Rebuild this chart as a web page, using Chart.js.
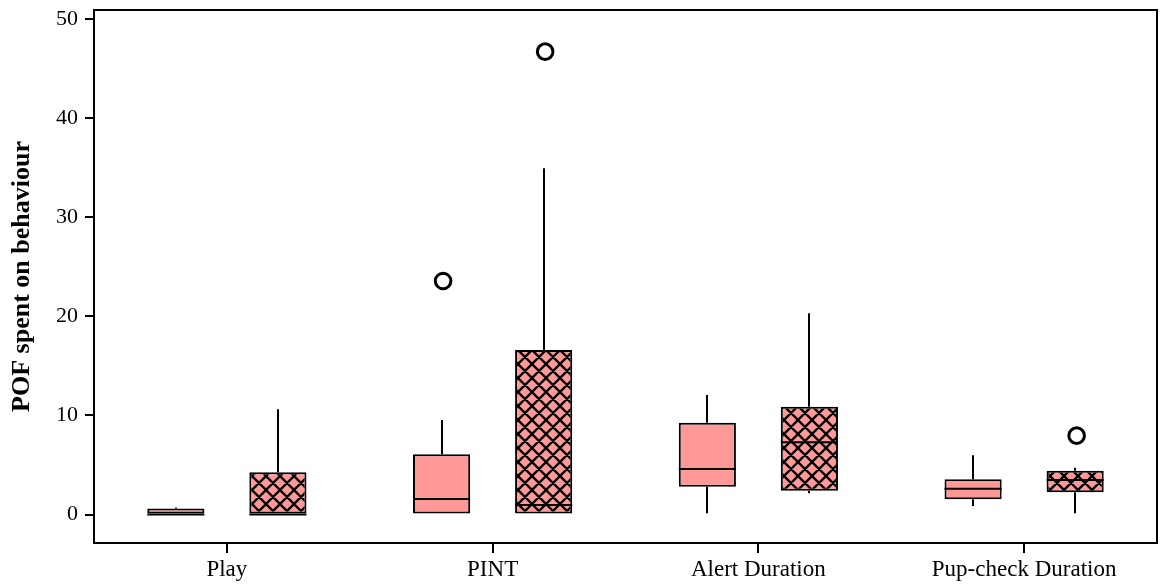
<!DOCTYPE html>
<html>
<head>
<meta charset="utf-8">
<script src="https://cdn.jsdelivr.net/npm/chart.js@4/dist/chart.umd.min.js"></script>
<style>
  html, body { margin: 0; padding: 0; background: #ffffff; }
  #wrap { width: 1160px; height: 584px; position: relative; }
</style>
</head>
<body>
<div id="wrap"><canvas id="chart"></canvas></div>
<script>
// Behaviour categories on the x axis
const categories = ['Play', 'PINT', 'Alert Duration', 'Pup-check Duration'];

// Box-plot summaries, series A (plain boxes)
const seriesAMin    = [0,    0,    0.13, 0.87];
const seriesAQ1     = [0,    0,    2.81, 1.54];
const seriesAMedian = [0,    1.57, 4.60, 2.61];
const seriesAQ3     = [0.62, 6.08, 9.27, 3.56];
const seriesAMax    = [0.72, 9.54, 12.06, 5.98];
const seriesAOutliers = [[], [23.56], [], []];

// Box-plot summaries, series B (cross-hatched boxes)
const seriesBMin    = [0,     0,     2.15, 0.13];
const seriesBQ1     = [0,     0,     2.41, 2.25];
const seriesBMedian = [0,     0.97,  7.29, 3.49];
const seriesBQ3     = [4.27,  16.60, 10.88, 4.43];
const seriesBMax    = [10.62, 34.93, 20.30, 4.73];
const seriesBOutliers = [[], [46.7], [], [7.96]];

// Y axis ticks
const yTicks = [0, 10, 20, 30, 40, 50];

const boxFill = 'rgb(255,153,152)';
const serif = "'Liberation Serif', 'Times New Roman', serif";

// Cross-hatch fill for series B
function makeHatch() {
  const s = 14;
  const tile = document.createElement('canvas');
  tile.width = s; tile.height = s;
  const t = tile.getContext('2d');
  t.fillStyle = boxFill;
  t.fillRect(0, 0, s, s);
  t.strokeStyle = '#000';
  t.lineWidth = 2.3;
  t.beginPath();
  for (const off of [-s, 0, s]) {
    t.moveTo(off, 0); t.lineTo(off + s, s);
    t.moveTo(off + s, 0); t.lineTo(off, s);
  }
  t.stroke();
  return t.createPattern(tile, 'repeat');
}

const stats = [
  { min: seriesAMin, q1: seriesAQ1, med: seriesAMedian, q3: seriesAQ3, max: seriesAMax, out: seriesAOutliers },
  { min: seriesBMin, q1: seriesBQ1, med: seriesBMedian, q3: seriesBQ3, max: seriesBMax, out: seriesBOutliers }
];

// Whiskers under the boxes; medians and outliers on top; frame around the plot
const boxPlotPlugin = {
  id: 'boxPlotParts',
  beforeDatasetsDraw(chart) {
    const ctx = chart.ctx;
    const y = chart.scales.y;
    ctx.save();
    ctx.strokeStyle = '#000';
    ctx.lineWidth = 2;
    stats.forEach((s, d) => {
      chart.getDatasetMeta(d).data.forEach((bar, i) => {
        const x = Math.round(bar.x);
        ctx.beginPath();
        ctx.moveTo(x, y.getPixelForValue(s.max[i]));
        ctx.lineTo(x, y.getPixelForValue(s.q3[i]));
        ctx.moveTo(x, y.getPixelForValue(s.q1[i]));
        ctx.lineTo(x, y.getPixelForValue(s.min[i]));
        ctx.stroke();
      });
    });
    ctx.restore();
  },
  afterDatasetsDraw(chart) {
    const ctx = chart.ctx;
    const y = chart.scales.y;
    ctx.save();
    ctx.strokeStyle = '#000';
    stats.forEach((s, d) => {
      chart.getDatasetMeta(d).data.forEach((bar, i) => {
        const half = bar.width / 2;
        const my = y.getPixelForValue(s.med[i]);
        ctx.lineWidth = 2;
        ctx.beginPath();
        ctx.moveTo(bar.x - half, my);
        ctx.lineTo(bar.x + half, my);
        ctx.stroke();
        s.out[i].forEach(v => {
          ctx.lineWidth = 3;
          ctx.fillStyle = '#fff';
          ctx.beginPath();
          ctx.arc(bar.x + 1.5, y.getPixelForValue(v), 7.8, 0, Math.PI * 2);
          ctx.fill();
          ctx.stroke();
        });
      });
    });
    const a = chart.chartArea;
    ctx.lineWidth = 2;
    ctx.strokeRect(a.left, a.top, a.right - a.left, a.bottom - a.top);
    ctx.restore();
  }
};

const ctx = document.getElementById('chart').getContext('2d');
const hatch = makeHatch();

new Chart(ctx, {
  type: 'bar',
  data: {
    labels: categories,
    datasets: [
      {
        label: 'Series A',
        data: seriesAQ1.map((v, i) => [v, seriesAQ3[i]]),
        backgroundColor: boxFill,
        borderColor: '#000',
        borderWidth: 2,
        borderSkipped: false,
        categoryPercentage: 0.768,
        barPercentage: 0.56
      },
      {
        label: 'Series B',
        data: seriesBQ1.map((v, i) => [v, seriesBQ3[i]]),
        backgroundColor: hatch,
        borderColor: '#000',
        borderWidth: 2,
        borderSkipped: false,
        categoryPercentage: 0.768,
        barPercentage: 0.56
      }
    ]
  },
  options: {
    responsive: true,
    maintainAspectRatio: false,
    animation: false,
    layout: { padding: { top: 10, right: 3, left: 0, bottom: 0 } },
    plugins: {
      legend: { display: false },
      tooltip: { enabled: false }
    },
    scales: {
      x: {
        offset: true,
        border: { display: false },
        grid: {
          offset: false,
          drawOnChartArea: false,
          drawTicks: true,
          tickLength: 10,
          color: '#000',
          lineWidth: 2
        },
        ticks: {
          color: '#000',
          padding: 3,
          maxRotation: 0,
          font: { family: serif, size: 23 }
        },
        afterFit(scale) {
          scale.height = 41;
          scale.paddingLeft = 0;
          scale.paddingRight = 0;
        }
      },
      y: {
        min: -2.87,
        max: 50.9,
        border: { display: false },
        grid: {
          drawOnChartArea: false,
          drawTicks: true,
          tickLength: 9,
          color: '#000',
          lineWidth: 2
        },
        afterBuildTicks(scale) {
          scale.ticks = yTicks.map(v => ({ value: v }));
        },
        ticks: {
          color: '#000',
          padding: 7,
          font: { family: serif, size: 22 }
        },
        title: {
          display: true,
          text: 'POF spent on behaviour',
          color: '#000',
          padding: { top: 7, bottom: 0 },
          font: { family: serif, size: 26, weight: 'bold' }
        },
        afterFit(scale) {
          scale.width = 94;
          scale.paddingTop = 0;
          scale.paddingBottom = 0;
        }
      }
    }
  },
  plugins: [boxPlotPlugin]
});
</script>
</body>
</html>
